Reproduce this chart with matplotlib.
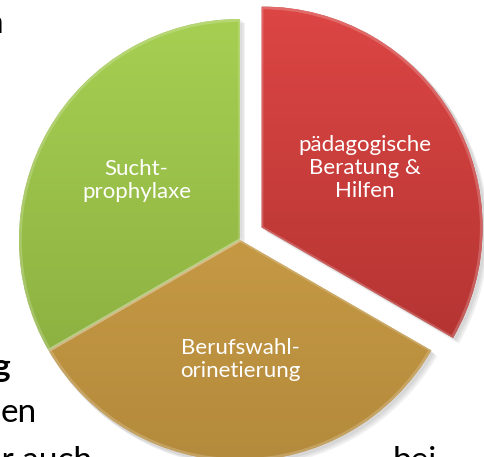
import numpy as np
import matplotlib.pyplot as plt
from matplotlib.colors import LinearSegmentedColormap
from matplotlib.patches import Wedge

# slices, counter-clockwise starting at -30 degrees
labels = ['pädagogische\nBeratung &\nHilfen', 'Sucht-\nprophylaxe', 'Berufswahl-\norinetierung']
shares = [1, 1, 1]
explode = [25, 0, 0]
top_colors = ['#dc4644', '#a6cf52', '#d6a84c']
bottom_colors = ['#a82f2d', '#86a83c', '#b48a3c']

# bits of the document text around the chart (cut by the crop)
doc_text = ['n', 'g', 'en', 'er auch', 'bei']

W, H = 485, 457
fig = plt.figure(figsize=(4.85, 4.57), dpi=100)
ax = fig.add_axes([0, 0, 1, 1])

cx, cy, r = 240, 217, 221

# soft shadow under the slices
for k, a in enumerate([0.05, 0.05, 0.06]):
    off = 2 + k * 1.5
    for i, e in enumerate(explode):
        th1 = -30 + 120 * i
        mid = np.deg2rad(th1 + 60)
        ax.add_patch(Wedge((cx + e * np.cos(mid) + off, cy + e * np.sin(mid) - off),
                           r + 1, th1, th1 + 120, facecolor='black', alpha=a,
                           edgecolor='none', zorder=0))

wedges, texts = ax.pie(shares, labels=labels, explode=explode, startangle=-30,
                       center=(cx, cy), radius=r, labeldistance=0.54, frame=True,
                       wedgeprops=dict(edgecolor='none'),
                       textprops=dict(color='white', fontsize=16, family='Lato',
                                      ha='center', va='center', linespacing=1.2))

for i, w in enumerate(wedges):
    w.set_facecolor(bottom_colors[i])
    w.set_zorder(1)
    cmap = LinearSegmentedColormap.from_list('g%d' % i, [bottom_colors[i], top_colors[i]])
    x0, y0 = w.center[0] - r, w.center[1] - r
    grad = np.linspace(0, 1, 256).reshape(-1, 1)
    im = ax.imshow(grad, cmap=cmap, origin='lower', aspect='auto',
                   extent=(x0, x0 + 2 * r, y0, y0 + 2 * r), zorder=2)
    im.set_clip_path(w)
    # light bevel along the rim
    ax.add_patch(Wedge(w.center, r - 1, w.theta1, w.theta2, facecolor='none',
                       edgecolor='white', alpha=0.2, linewidth=2.5, zorder=3))
for t in texts:
    t.set_zorder(4)

ax.text(3, H - 24, doc_text[0], ha='right', va='center', fontsize=24, family='Lato')
ax.text(10, H - 368, doc_text[1], ha='right', va='center', fontsize=24,
        family='Lato', weight='bold')
ax.text(1, H - 413, doc_text[2], ha='left', va='center', fontsize=24, family='Lato')
ax.text(-16, H - 446, doc_text[3], ha='left', va='top', fontsize=24, family='Lato')
ax.text(393, H - 446, doc_text[4], ha='left', va='top', fontsize=24, family='Lato')

ax.set_xlim(0, W)
ax.set_ylim(0, H)
ax.set_aspect('auto')
ax.axis('off')

fig.savefig('out.png', dpi=100, facecolor='white')
